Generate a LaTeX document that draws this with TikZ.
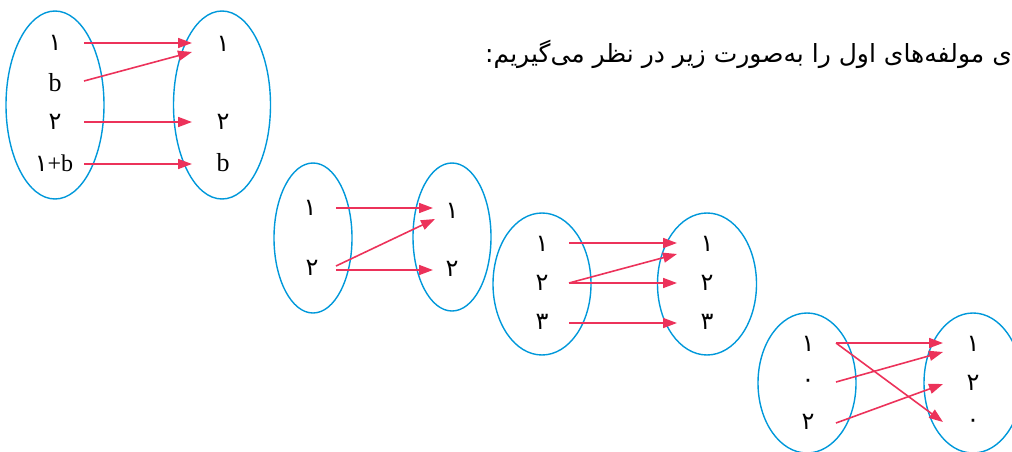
\documentclass[tikz,border=0pt]{standalone}
\usepackage{fontspec}
\usetikzlibrary{arrows.meta,calc,shapes.geometric}
\TeXXeTstate=1
\newfontfamily\fa[Script=Arabic]{DejaVu Sans}
\newfontfamily\lat{Liberation Serif}
\definecolor{setblue}{RGB}{0,152,218}
\definecolor{maprd}{RGB}{236,50,90}
\begin{document}
\begin{tikzpicture}[x=1pt,y=-1pt,
 setell/.style={draw=setblue, line width=1.4pt, shape=ellipse, inner sep=0pt},
 lab/.style={font=\fa\fontsize{24}{24}\selectfont, inner sep=0pt},
 latin/.style={font=\lat\fontsize{26}{26}\selectfont, inner sep=0pt},
 maparrow/.style={draw=maprd, line width=1.6pt, -{Triangle[length=14pt,width=10pt]}},
]
\useasboundingbox (0,0) rectangle (1012,452);

% sentence
\node[anchor=west, font=\fa\fontsize{25}{30}\selectfont, inner sep=0pt] (T) at (485,54)
  {\beginR ی مولفه‌های اول را به‌صورت زیر در نظر می‌گیریم:\endR};

% diagram 1
\node[setell, minimum width=98pt, minimum height=188pt] (A) at (55,105) {};
\node[setell, minimum width=97pt, minimum height=188pt] (B) at (222,105) {};
\node[lab] (a1) at (55,43) {۱};
\node[latin] (ab) at (55,83) {b};
\node[lab] (a2) at (55,122) {۲};
\node[inner sep=0pt] (a3) at (54,163) {{\fa\fontsize{24}{24}\selectfont ۱}{\lat\fontsize{24}{24}\selectfont +b}};
\node[lab] (b1) at (223,44) {۱};
\node[lab] (b2) at (223,122) {۲};
\node[latin] (bb) at (223,163) {b};
\draw[maparrow] ($(a1)+(29,0)$) -- ($(b1)+(-31,-1)$);
\draw[maparrow] ($(ab)+(29,-2)$) -- ($(b1)+(-31,8)$);
\draw[maparrow] ($(a2)+(29,0)$) -- ($(b2)+(-31,0)$);
\draw[maparrow] ($(a3)+(30,1)$) -- ($(bb)+(-31,1)$);

% diagram 2
\node[setell, minimum width=78pt, minimum height=150pt] (C) at (313,238) {};
\node[setell, minimum width=78pt, minimum height=148pt] (D) at (452,237) {};
\node[lab] (c1) at (310,208) {۱};
\node[lab] (c2) at (312,268) {۲};
\node[lab] (d1) at (452,211) {۱};
\node[lab] (d2) at (452,269) {۲};
\draw[maparrow] ($(c1)+(26,0)$) -- ($(d1)+(-19,-3)$);
\draw[maparrow] ($(c2)+(24,-2)$) -- ($(d1)+(-17,8)$);
\draw[maparrow] ($(c2)+(24,2)$) -- ($(d2)+(-19,1)$);

% diagram 3
\node[setell, minimum width=98pt, minimum height=142pt] (E) at (542,284) {};
\node[setell, minimum width=99pt, minimum height=142pt] (F) at (707,284) {};
\node[lab] (e1) at (542,244) {۱};
\node[lab] (e2) at (542,283) {۲};
\node[lab] (e3) at (542,322) {۳};
\node[lab] (f1) at (707,244) {۱};
\node[lab] (f2) at (707,283) {۲};
\node[lab] (f3) at (707,322) {۳};
\draw[maparrow] ($(e1)+(27,-1)$) -- ($(f1)+(-30,-1)$);
\draw[maparrow] ($(e2)+(27,0)$) -- ($(f1)+(-30,10)$);
\draw[maparrow] ($(e2)+(27,0)$) -- ($(f2)+(-30,0)$);
\draw[maparrow] ($(e3)+(27,1)$) -- ($(f3)+(-30,1)$);

% diagram 4
\node[setell, minimum width=98pt, minimum height=140pt] (G) at (807,383) {};
\node[setell, minimum width=98pt, minimum height=140pt] (H) at (973,383) {};
\node[lab] (g1) at (808,344) {۱};
\node[lab] (g0) at (808,383) {۰};
\node[lab] (g2) at (808,422) {۲};
\node[lab] (h1) at (973,344) {۱};
\node[lab] (h2) at (973,383) {۲};
\node[lab] (h0) at (973,423) {۰};
\draw[maparrow] ($(g1)+(28,-1)$) -- ($(h1)+(-30,-1)$);
\draw[maparrow] ($(g1)+(28,-1)$) -- ($(h0)+(-30,-1)$);
\draw[maparrow] ($(g0)+(28,-1)$) -- ($(h1)+(-30,8)$);
\draw[maparrow] ($(g2)+(28,1)$) -- ($(h2)+(-30,1)$);
\end{tikzpicture}
\end{document}
